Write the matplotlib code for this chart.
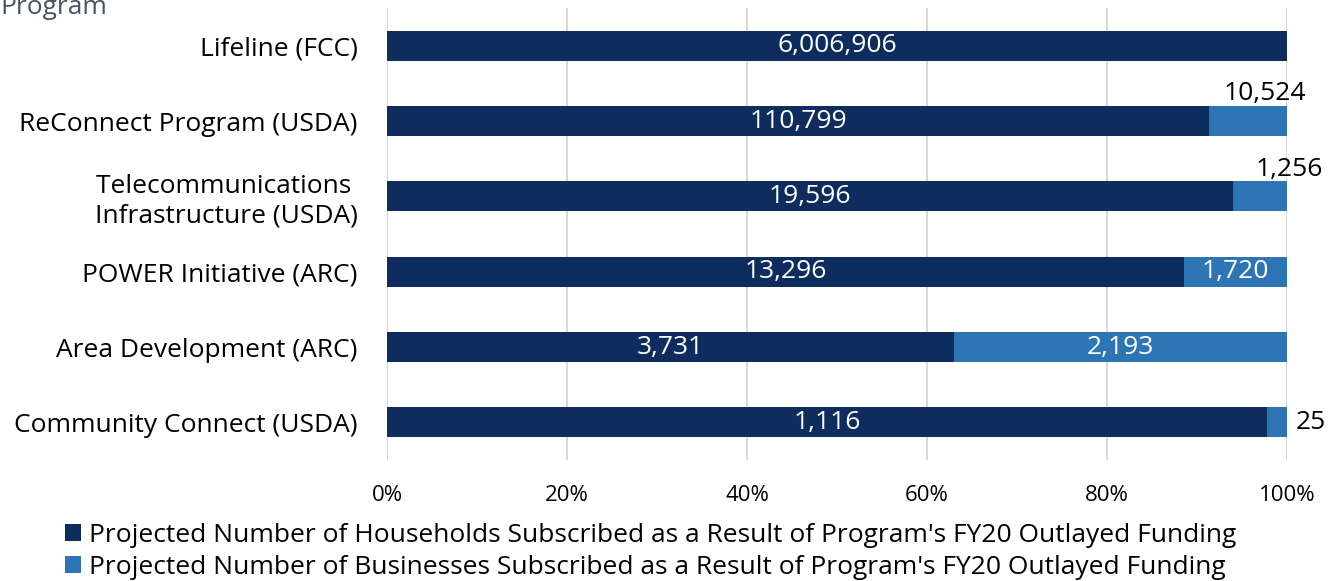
import matplotlib.pyplot as plt
import numpy as np

plt.rcParams['font.family'] = ['Open Sans', 'DejaVu Sans']

programs = ['Lifeline (FCC)', 'ReConnect Program (USDA)',
            'Telecommunications \nInfrastructure (USDA)', 'POWER Initiative (ARC)',
            'Area Development (ARC)', 'Community Connect (USDA)']
households = [6006906, 110799, 19596, 13296, 3731, 1116]
businesses = [0, 10524, 1256, 1720, 2193, 25]
ticks = [0, 20, 40, 60, 80, 100]

hh = np.array(households, dtype=float)
bz = np.array(businesses, dtype=float)
tot = hh + bz
hh_pct = hh / tot * 100
bz_pct = bz / tot * 100

dark = '#0e2d5e'
light = '#2e75b6'
fs = 19

fig = plt.figure(figsize=(13.38, 5.81), dpi=100)
ax = fig.add_axes([0.2892, 0.2083, 0.6727, 0.7777])
y = np.arange(len(programs))
ax.barh(y, hh_pct, height=0.4, color=dark, zorder=3,
        label="Projected Number of Households Subscribed as a Result of Program's FY20 Outlayed Funding")
ax.barh(y, bz_pct, left=hh_pct, height=0.4, color=light, zorder=3,
        label="Projected Number of Businesses Subscribed as a Result of Program's FY20 Outlayed Funding")

# label nudges for the small segments (x in %, y in category units)
outside = {1: (1.9, -0.36), 2: (3.3, -0.36)}

for i in range(len(programs)):
    ax.text(hh_pct[i] / 2, i, f'{households[i]:,}', color='white',
            ha='center', va='center', fontsize=fs, zorder=4)
    if businesses[i] == 0:
        continue
    if bz_pct[i] > 10:
        ax.text(hh_pct[i] + bz_pct[i] / 2, i, f'{businesses[i]:,}', color='white',
                ha='center', va='center', fontsize=fs, zorder=4)
    elif i in outside:
        dx, dy = outside[i]
        ax.text(hh_pct[i] + bz_pct[i] / 2 + dx, i + dy, f'{businesses[i]:,}',
                color='black', ha='center', va='center', fontsize=fs, zorder=4)
    else:
        ax.text(101, i, f'{businesses[i]:,}', color='black',
                ha='left', va='center', fontsize=fs, zorder=4)

ax.set_xlim(0, 100)
ax.set_ylim(-0.5, len(programs) - 0.5)
ax.invert_yaxis()
ax.set_xticks(ticks)
ax.set_xticklabels([f'{t}%' for t in ticks])
ax.set_yticks(y)
ax.set_yticklabels(programs, fontsize=fs)
ax.tick_params(axis='x', labelsize=16, length=0, pad=18)
ax.tick_params(axis='y', length=0, pad=21)
ax.grid(axis='x', color='#d9d9d9', linewidth=1.5, zorder=0)
for s in ax.spines.values():
    s.set_visible(False)

fig.text(0.0, 1 - 14 / 581, 'Program', fontsize=fs, color='#44546a',
         ha='left', va='baseline')

ax.legend(loc='lower left', bbox_to_anchor=(0.041, -0.016), bbox_transform=fig.transFigure,
          ncol=1, frameon=False, fontsize=fs, handlelength=0.6, handleheight=0.6,
          handletextpad=0.3, labelspacing=0.25, borderaxespad=0)

fig.savefig('out.png', dpi=100)
